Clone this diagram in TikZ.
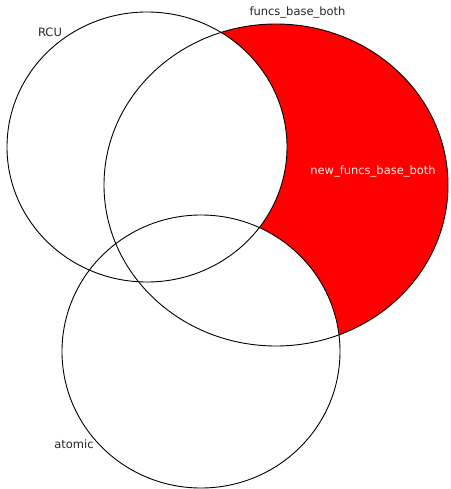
\documentclass[tikz,border=0pt]{standalone}
\usepackage{fontspec}
\setmainfont{DejaVu Sans}
\tikzset{
  setline/.style={draw=black, line width=0.9pt},
  lbl/.style={font=\fontsize{11.5}{14}\selectfont, inner sep=0pt, text=black!85},
  lblw/.style={font=\fontsize{11.5}{14}\selectfont, inner sep=0pt, text=white!92!red},
}
\begin{document}
\begin{tikzpicture}[x=1pt,y=-1pt]
\useasboundingbox (0,0) rectangle (450,489);
% fills
\fill[red] (276,185) ellipse [x radius=172, y radius=161];
\fill[white] (147,147) ellipse [x radius=140, y radius=135];
\fill[white] (201,351.5) ellipse [x radius=139, y radius=136.5];
% outlines
\draw[setline] (147,147) ellipse [x radius=140, y radius=135];
\draw[setline] (276,185) ellipse [x radius=172, y radius=161];
\draw[setline] (201,351.5) ellipse [x radius=139, y radius=136.5];
% labels
\node[lbl] (rcu) at (50,32) {RCU};
\node[lbl] (fbb) at (297.5,12.5) {funcs\_base\_both};
\node[lblw] (nfbb) at (373,171) {new\_funcs\_base\_both};
\node[lbl] (atomic) at (74,444) {atomic};
\end{tikzpicture}
\end{document}
